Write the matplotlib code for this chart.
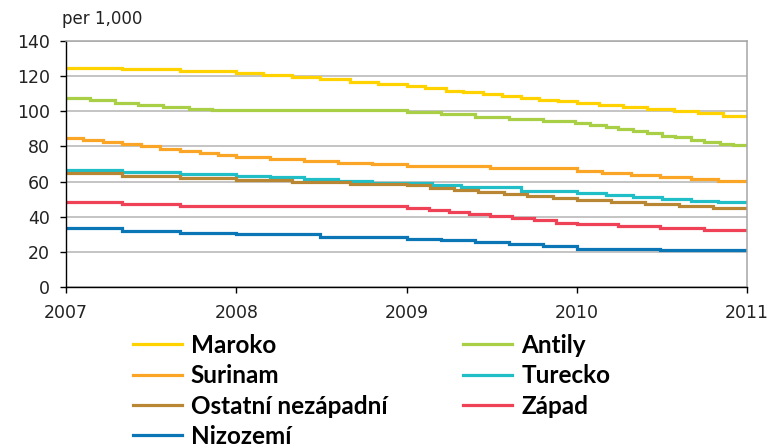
import matplotlib
matplotlib.use("Agg")
import matplotlib.pyplot as plt

# ------------------------------------------------------------
# Data (per 1,000) - step change points
# ------------------------------------------------------------

END_YEAR = 2011

maroko_x = [2007.00, 2007.33, 2007.67, 2008.00, 2008.16, 2008.33, 2008.49,
            2008.67, 2008.83, 2009.00, 2009.11, 2009.23, 2009.33, 2009.45,
            2009.56, 2009.67, 2009.78, 2009.89, 2010.00, 2010.13, 2010.27,
            2010.41, 2010.57, 2010.71, 2010.86]
maroko_y = [124.8, 123.8, 122.8, 121.7, 120.4, 119.3, 118.3,
            116.8, 115.6, 114.4, 113.1, 111.8, 110.7, 109.7,
            108.8, 107.8, 106.6, 105.9, 104.7, 103.6, 102.2,
            101.3, 100.1, 99.0, 97.6]

antily_x = [2007.00, 2007.14, 2007.29, 2007.42, 2007.57, 2007.72, 2007.86,
            2009.00, 2009.20, 2009.40, 2009.60, 2009.80, 2009.99, 2010.08,
            2010.17, 2010.24, 2010.33, 2010.41, 2010.50, 2010.58, 2010.67,
            2010.75, 2010.84, 2010.92]
antily_y = [107.6, 106.3, 104.9, 103.8, 102.7, 101.5, 100.6,
            99.4, 98.3, 96.9, 95.8, 94.6, 93.3, 92.2,
            91.0, 89.9, 88.5, 87.4, 86.2, 85.1, 83.9,
            82.8, 81.6, 80.7]

surinam_x = [2007.00, 2007.10, 2007.22, 2007.33, 2007.44, 2007.55, 2007.67,
             2007.79, 2007.89, 2008.00, 2008.20, 2008.40, 2008.60, 2008.80,
             2009.00, 2009.49, 2010.00, 2010.15, 2010.32, 2010.49, 2010.67,
             2010.83]
surinam_y = [84.9, 83.6, 82.3, 81.1, 80.0, 78.7, 77.5,
             76.4, 75.3, 74.1, 73.0, 71.8, 70.7, 69.8,
             68.7, 67.6, 66.2, 64.7, 63.5, 62.4, 61.3,
             60.5]

turecko_x = [2007.00, 2007.33, 2007.67, 2008.00, 2008.20, 2008.40, 2008.60,
             2008.80, 2009.15, 2009.32, 2009.67, 2010.00, 2010.17, 2010.33,
             2010.50, 2010.67, 2010.83]
turecko_y = [66.6, 65.5, 64.4, 63.2, 62.4, 61.6, 60.1,
             59.0, 58.0, 56.7, 54.8, 53.7, 52.2, 51.1,
             49.9, 49.1, 48.2]

ostatni_x = [2007.00, 2007.33, 2007.67, 2008.00, 2008.33, 2008.67, 2009.00,
             2009.14, 2009.28, 2009.42, 2009.57, 2009.71, 2009.86, 2010.00,
             2010.20, 2010.40, 2010.60, 2010.80]
ostatni_y = [64.6, 63.2, 61.9, 60.8, 59.6, 58.8, 57.8,
             56.6, 55.3, 54.1, 52.8, 51.6, 50.4, 49.6,
             48.2, 47.1, 46.1, 44.8]

zapad_x = [2007.00, 2007.33, 2007.67, 2009.00, 2009.13, 2009.25, 2009.37,
           2009.49, 2009.62, 2009.75, 2009.88, 2010.00, 2010.24, 2010.49,
           2010.75]
zapad_y = [48.3, 47.2, 46.1, 44.8, 43.6, 42.5, 41.3,
           40.2, 39.0, 37.9, 36.7, 35.6, 34.5, 33.3,
           32.4]

nizozemi_x = [2007.00, 2007.33, 2007.67, 2008.00, 2008.49, 2009.00, 2009.20,
              2009.40, 2009.60, 2009.80, 2010.00, 2010.49]
nizozemi_y = [33.3, 32.1, 31.0, 29.9, 28.7, 27.6, 26.5,
              25.4, 24.2, 23.1, 21.9, 20.8]

# drawing order (brown sits on top of cyan)
series = [
    ("Maroko", maroko_x, maroko_y, "#FFD200"),
    ("Antily", antily_x, antily_y, "#A8CF45"),
    ("Surinam", surinam_x, surinam_y, "#FBA526"),
    ("Turecko", turecko_x, turecko_y, "#20BEC6"),
    ("Ostatní nezápadní", ostatni_x, ostatni_y, "#B98734"),
    ("Západ", zapad_x, zapad_y, "#EF4257"),
    ("Nizozemí", nizozemi_x, nizozemi_y, "#0A76B6"),
]

legend_order = ["Maroko", "Surinam", "Ostatní nezápadní", "Nizozemí",
                "Antily", "Turecko", "Západ"]

x_ticks = [2007, 2008, 2009, 2010, 2011]
y_ticks = [0, 20, 40, 60, 80, 100, 120, 140]

# ------------------------------------------------------------
# Figure
# ------------------------------------------------------------

plt.rcParams["font.family"] = ["DejaVu Sans"]

fig = plt.figure(figsize=(7.69, 4.48), dpi=100)
ax = fig.add_axes([66 / 769, 1 - 287 / 448, (747 - 66) / 769, (287 - 41) / 448])

handles = {}
for name, xs, ys, color in series:
    line, = ax.step(
        xs + [END_YEAR],
        ys + [ys[-1]],
        where="post",
        color=color,
        lw=2.3,
        solid_joinstyle="miter",
        label=name,
    )
    handles[name] = line

ax.set_xlim(2007, 2011)
ax.set_ylim(0, 140)
ax.set_xticks(x_ticks)
ax.set_yticks(y_ticks)
ax.set_xticklabels([str(v) for v in x_ticks])

ax.yaxis.grid(True, color="#B4B4B4", lw=1.1)
ax.set_axisbelow(True)

for side in ["top", "right"]:
    ax.spines[side].set_color("#A6A6A6")
    ax.spines[side].set_linewidth(1.1)
for side in ["left", "bottom"]:
    ax.spines[side].set_color("black")
    ax.spines[side].set_linewidth(1.0)

ax.tick_params(axis="both", direction="out", length=4.5, width=1.0,
               color="black", labelsize=12.5, labelcolor="#222222")
ax.tick_params(axis="y", pad=7)
ax.tick_params(axis="x", pad=8)

fig.text(62 / 769, 1 - 19 / 448, "per 1,000", fontsize=12,
         color="#222222", va="center", ha="left")

fig.legend(
    [handles[n] for n in legend_order],
    legend_order,
    loc="upper left",
    bbox_to_anchor=(133 / 769, 1 - 334 / 448),
    ncol=2,
    frameon=False,
    borderpad=0,
    borderaxespad=0,
    handlelength=2.0,
    handletextpad=0.38,
    columnspacing=3.12,
    labelspacing=0.3,
    prop={"family": "Lato", "weight": "bold", "size": 17.5},
)

fig.savefig("out.png", dpi=100)
